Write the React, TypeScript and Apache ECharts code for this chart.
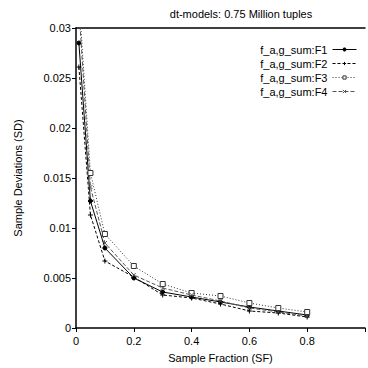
import React, { useEffect, useRef } from "react";
import * as echarts from "echarts";

const xValues = [0.01, 0.05, 0.1, 0.2, 0.3, 0.4, 0.5, 0.6, 0.7, 0.8];
const seriesNames = ["f_a,g_sum:F1", "f_a,g_sum:F2", "f_a,g_sum:F3", "f_a,g_sum:F4"];
const f1 = [0.0285, 0.0127, 0.008, 0.005, 0.0036, 0.0031, 0.0026, 0.0021, 0.0017, 0.0013];
const f2 = [0.0261, 0.0113, 0.0067, 0.0051, 0.0033, 0.003, 0.0024, 0.0017, 0.0015, 0.0011];
const f3 = [0.033, 0.0155, 0.0094, 0.0062, 0.0044, 0.0035, 0.0032, 0.0025, 0.002, 0.0016];
const f4 = [0.032, 0.0141, 0.0085, 0.0053, 0.004, 0.0033, 0.0027, 0.002, 0.0016, 0.0012];
const title = "dt-models: 0.75 Million tuples";
const xName = "Sample Fraction (SF)";
const yName = "Sample Deviations (SD)";

const FONT = "Liberation Sans";

export default function App() {
  const ref = useRef<HTMLDivElement>(null);
  useEffect(() => {
    if (!ref.current) return;
    const chart = echarts.init(ref.current, undefined, { renderer: "svg" });
    const pair = (ys: number[]) => xValues.map((x, i) => [x, ys[i]]);
    const mk = (
      name: string,
      ys: number[],
      color: string,
      type: any,
      symbol: string,
      symbolSize: number,
      filled: boolean
    ) => ({
      name,
      type: "line",
      data: pair(ys),
      symbol,
      symbolSize,
      showSymbol: true,
      clip: true,
      lineStyle: { color, width: 1, type },
      itemStyle: {
        color: filled ? color : "#fff",
        borderColor: color,
        borderWidth: 1,
      },
      emphasis: { disabled: true },
    });
    chart.setOption({
      animation: false,
      backgroundColor: "#fff",
      title: {
        text: title,
        left: 236,
        textAlign: "center",
        top: 3,
        textStyle: { fontFamily: FONT, fontSize: 11, fontWeight: "normal", color: "#000" },
      },
      legend: {
        orient: "vertical",
        right: 6,
        top: 39,
        align: "right",
        itemWidth: 24,
        itemHeight: 4,
        itemGap: 3,
        lineStyle: { width: 1 },
        itemStyle: { borderWidth: 1 },
        textStyle: { fontFamily: FONT, fontSize: 11, color: "#000", padding: [0, 0, 0, 0] },
        data: seriesNames,
      },
      grid: { left: 76, right: -3, top: 28, bottom: 40 },
      xAxis: [
        {
          type: "value",
          min: 0,
          max: 1,
          interval: 0.2,
          name: xName,
          nameLocation: "middle",
          nameGap: 24,
          nameTextStyle: { fontFamily: FONT, fontSize: 11, color: "#000" },
          axisLine: { lineStyle: { color: "#000", width: 1.5 } },
          axisTick: { show: true, length: 4, lineStyle: { color: "#000" } },
          axisLabel: {
            fontFamily: FONT,
            fontSize: 11,
            color: "#000",
            margin: 7,
            formatter: (v: number) => (v >= 0.99 ? "" : String(+v.toFixed(1))),
          },
          splitLine: { show: false },
        },
        {
          type: "value",
          position: "top",
          min: 0,
          max: 1,
          axisLine: { show: true, lineStyle: { color: "#000", width: 1.5 } },
          axisTick: { show: false },
          axisLabel: { show: false },
          splitLine: { show: false },
        },
      ],
      yAxis: {
        type: "value",
        min: 0,
        max: 0.03,
        interval: 0.005,
        name: yName,
        nameLocation: "middle",
        nameGap: 53,
        nameTextStyle: { fontFamily: FONT, fontSize: 11, color: "#000" },
        axisLine: { show: true, lineStyle: { color: "#000", width: 1.5 } },
        axisTick: { show: true, length: 4, lineStyle: { color: "#000" } },
        axisLabel: {
          fontFamily: FONT,
          fontSize: 11,
          color: "#000",
          margin: 5,
          formatter: (v: number) => String(+v.toFixed(3)),
        },
        splitLine: { show: false },
      },
      series: [
        mk(seriesNames[0], f1, "#000", "solid", "circle", 4, true),
        mk(seriesNames[1], f2, "#000", [3, 2], "path://M0,5L10,5M5,0L5,10", 5, true),
        mk(seriesNames[2], f3, "#333", [1, 2], "rect", 5, false),
        mk(seriesNames[3], f4, "#555", [4, 2], "path://M0,0L10,10M10,0L0,10", 4, true),
      ],
    });
    return () => chart.dispose();
  }, []);
  return (
    <div
      ref={ref}
      style={{ position: "fixed", left: 0, top: 0, width: 368, height: 368 }}
    />
  );
}
